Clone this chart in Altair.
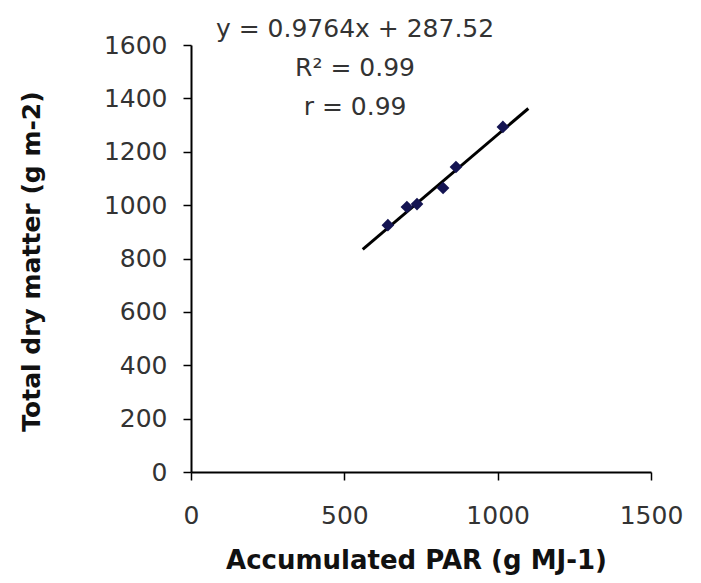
import altair as alt
import pandas as pd

par = [642, 704, 737, 822, 864, 1017]          # Accumulated PAR (g MJ-1)
tdm = [925, 993, 1004, 1064, 1143, 1293]       # Total dry matter (g m-2)

# Trend line end points (as drawn)
fit_x = [560, 1100]
fit_y = [834, 1362]

# Annotation texts
ann_text = ["y = 0.9764x + 287.52", "R\u00b2 = 0.99", "r = 0.99"]
ann_x = [535, 535, 535]
ann_y = [1660, 1514, 1368]

x_ticks = [0, 500, 1000, 1500]
y_ticks = [0, 200, 400, 600, 800, 1000, 1200, 1400, 1600]

pts = pd.DataFrame({"x": par, "y": tdm})
fit = pd.DataFrame({"x": fit_x, "y": fit_y})
ann = pd.DataFrame({"x": ann_x, "y": ann_y, "t": ann_text})

FONT = "DejaVu Sans"

xs = alt.Scale(domain=[0, 1500], nice=False, zero=False)
ys = alt.Scale(domain=[0, 1600], nice=False, zero=False)

x_axis = alt.Axis(
    title="Accumulated PAR (g MJ-1)", values=x_ticks, grid=False, format="d",
    labelFlush=False, labelOverlap=False,
    titleX=225, titleY=88, titleBaseline="middle", titleAlign="center",
    titleFontSize=26, titleFontWeight="bold", titleFont=FONT, titleColor="#111",
    labelFontSize=25, labelFont=FONT, labelColor="#333", labelPadding=23,
    tickSize=8, tickWidth=1.5, tickColor="black",
    domainColor="black", domainWidth=2,
)
y_axis = alt.Axis(
    title="Total dry matter (g m-2)", values=y_ticks, grid=False, format="d",
    labelFlush=False, labelOverlap=False,
    titleX=-160, titleY=216, titleBaseline="middle", titleAlign="center", titleAngle=-90,
    titleFontSize=25, titleFontWeight="bold", titleFont=FONT, titleColor="#111",
    labelFontSize=25, labelFont=FONT, labelColor="#333", labelPadding=16,
    tickSize=8, tickWidth=1.5, tickColor="black",
    domainColor="black", domainWidth=2,
)

line = alt.Chart(fit).mark_line(color="black", strokeWidth=3).encode(
    x=alt.X("x:Q", scale=xs, axis=x_axis),
    y=alt.Y("y:Q", scale=ys, axis=y_axis),
)

points = alt.Chart(pts).mark_point(
    shape="diamond", filled=True, color="#141452", size=160, opacity=1
).encode(
    x=alt.X("x:Q", scale=xs),
    y=alt.Y("y:Q", scale=ys),
)

texts = alt.Chart(ann).mark_text(
    font=FONT, fontSize=25, color="#333", align="center", baseline="middle"
).encode(
    x=alt.X("x:Q", scale=xs),
    y=alt.Y("y:Q", scale=ys),
    text="t:N",
)

chart = alt.layer(line, points, texts).properties(
    width=460, height=427,
    autosize=alt.AutoSizeParams(type="none"),
    padding={"left": 183, "top": 37, "right": 42, "bottom": 104},
    background="white",
).configure_view(stroke=None)

chart.save("out.html", embed_options={"renderer": "svg", "actions": False})
